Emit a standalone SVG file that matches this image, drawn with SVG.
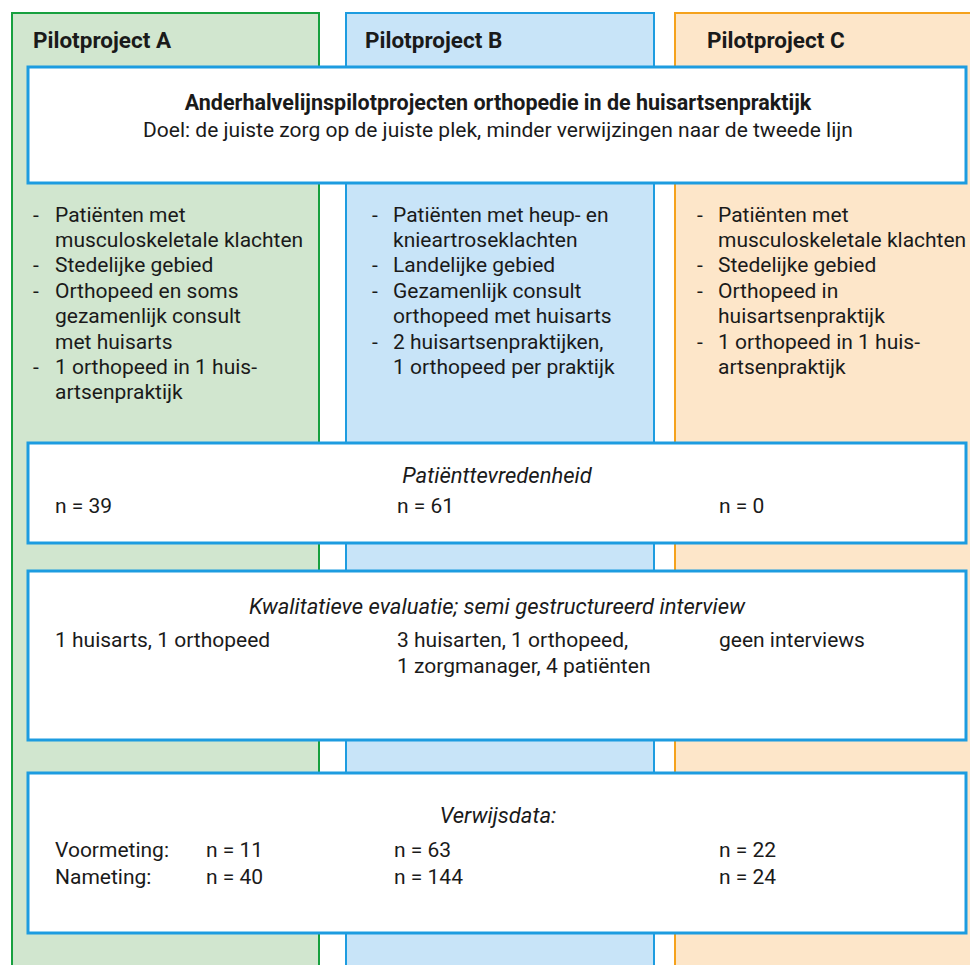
<svg xmlns="http://www.w3.org/2000/svg" width="970" height="965" viewBox="0 0 970 965">
<style>
text{font-family:Roboto,"Liberation Sans",sans-serif;fill:#1a1a1a;font-size:21px}
.hd{font-weight:bold;font-size:22.5px}
.b{font-weight:bold;font-size:21.5px}
.i{font-style:italic;font-size:22px}
.c{text-anchor:middle}
.box{fill:#ffffff;stroke:#1d9ce0;stroke-width:3}
</style>
<rect width="970" height="965" fill="#ffffff"/>
<g id="colA">
<rect x="12" y="13" width="307" height="970" fill="#d1e6cf" stroke="#17a03f" stroke-width="2"/>
<text class="hd" x="33" y="48">Pilotproject A</text>
<text x="33" y="222">-</text><text x="55" y="222">Patiënten met</text>
<text x="55" y="247">musculoskeletale klachten</text>
<text x="33" y="272">-</text><text x="55" y="272">Stedelijke gebied</text>
<text x="33" y="298">-</text><text x="55" y="298">Orthopeed en soms</text>
<text x="55" y="323">gezamenlijk consult</text>
<text x="55" y="349">met huisarts</text>
<text x="33" y="374">-</text><text x="55" y="374">1 orthopeed in 1 huis-</text>
<text x="55" y="399">artsenpraktijk</text>
</g>
<g id="colB">
<rect x="346" y="13" width="308" height="970" fill="#c8e4f8" stroke="#1d9ce0" stroke-width="2"/>
<text class="hd" x="365" y="48">Pilotproject B</text>
<text x="372" y="222">-</text><text x="393" y="222">Patiënten met heup- en</text>
<text x="393" y="247">knieartroseklachten</text>
<text x="372" y="272">-</text><text x="393" y="272">Landelijke gebied</text>
<text x="372" y="298">-</text><text x="393" y="298">Gezamenlijk consult</text>
<text x="393" y="323">orthopeed met huisarts</text>
<text x="372" y="349">-</text><text x="393" y="349">2 huisartsenpraktijken,</text>
<text x="393" y="374">1 orthopeed per praktijk</text>
</g>
<g id="colC">
<rect x="675" y="13" width="320" height="970" fill="#fde6c9" stroke="#f5a21c" stroke-width="2"/>
<text class="hd" x="707" y="48">Pilotproject C</text>
<text x="697" y="222">-</text><text x="718" y="222">Patiënten met</text>
<text x="718" y="247">musculoskeletale klachten</text>
<text x="697" y="272">-</text><text x="718" y="272">Stedelijke gebied</text>
<text x="697" y="298">-</text><text x="718" y="298">Orthopeed in</text>
<text x="718" y="323">huisartsenpraktijk</text>
<text x="697" y="349">-</text><text x="718" y="349">1 orthopeed in 1 huis-</text>
<text x="718" y="374">artsenpraktijk</text>
</g>
<g id="doel">
<rect class="box" x="28" y="67" width="938" height="116"/>
<text class="b c" x="498" y="110">Anderhalvelijnspilotprojecten orthopedie in de huisartsenpraktijk</text>
<text class="c" x="498" y="137">Doel: de juiste zorg op de juiste plek, minder verwijzingen naar de tweede lijn</text>
</g>
<g id="tevredenheid">
<rect class="box" x="28" y="443" width="938" height="100"/>
<text class="i c" x="497" y="483">Patiënttevredenheid</text>
<text x="55" y="513">n = 39</text>
<text x="397" y="513">n = 61</text>
<text x="719" y="513">n = 0</text>
</g>
<g id="kwalitatief">
<rect class="box" x="28" y="571" width="938" height="169"/>
<text class="i c" x="497" y="614">Kwalitatieve evaluatie; semi gestructureerd interview</text>
<text x="55" y="647">1 huisarts, 1 orthopeed</text>
<text x="397" y="647">3 huisarten, 1 orthopeed,</text>
<text x="397" y="673">1 zorgmanager, 4 patiënten</text>
<text x="719" y="647">geen interviews</text>
</g>
<g id="verwijsdata">
<rect class="box" x="28" y="773" width="938" height="160"/>
<text class="i c" x="498" y="823">Verwijsdata:</text>
<text x="55" y="857">Voormeting:</text>
<text x="206" y="857">n = 11</text>
<text x="394" y="857">n = 63</text>
<text x="719" y="857">n = 22</text>
<text x="55" y="884">Nameting:</text>
<text x="206" y="884">n = 40</text>
<text x="394" y="884">n = 144</text>
<text x="719" y="884">n = 24</text>
</g>
<g id="connectors"></g>
</svg>
